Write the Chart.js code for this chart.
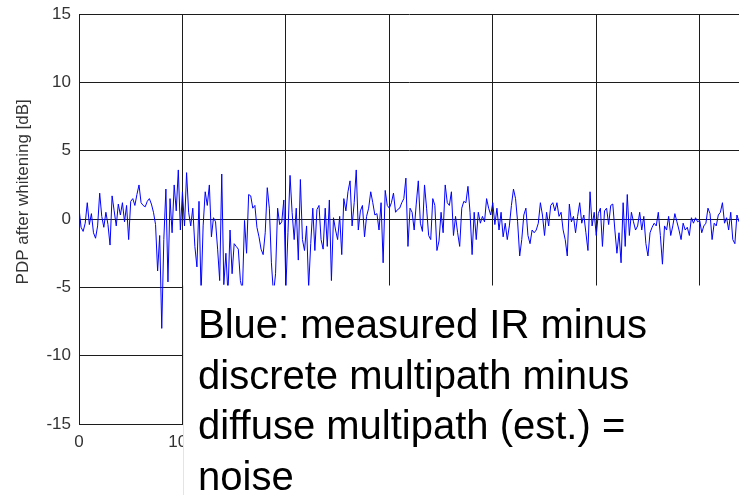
<!DOCTYPE html>
<html>
<head>
<meta charset="utf-8">
<script src="https://cdn.jsdelivr.net/npm/chart.js@4/dist/chart.umd.min.js"></script>
<style>
html,body{margin:0;padding:0;background:#fff;overflow:hidden;width:739px;height:495px;}
canvas{display:block;margin-top:-4px;}
</style>
</head>
<body>
<canvas id="c" width="739" height="499"></canvas>
<script>
const sampleSpacing = 2;
const seg0 = { start: 0, values: [
  0.8,-0.6,-0.9,-0.3,1.2,-0.4,0.4,-1.0,-1.4,-0.5,
  1.9,0.2,-0.6,0.5,-0.4,-1.9,1.7,0.6,-0.5,1.1,
  0.3,1.2,-0.2,1.0,-1.5,1.3,1.5,1.0,1.8,2.5,
  1.2,1.0,0.9,1.3,1.5,1.1,0.5,-0.4,-3.8,-1.2,
  -8.0,-1.5,2.2,-4.6,1.5,-1.0,2.5,0.6,3.6,-0.8,
  2.0,-0.5,3.4,0.5 ] };
const seg1 = { start: 108, values: [
  -0.5,0.8,-2.0,-3.5,1.3,-5.5,-0.5,2.0,1.0,2.5,
  -1.3,0.1,-0.2,-2.2,-4.5,3.3,-4.8,-2.5,-5.5,-0.8,
  -4.0,-1.8,-2.0,-2.2,-4.5,-5.2,-0.1,-2.5,1.8,1.7,
  0.8,1.0,-0.6,-1.3,-2.2,-2.6,-1.0,2.3,0.8,-3.2,
  -5.5,-4.0,0.8,-0.4,-0.2,1.4,-5.0,-1.0,3.2,0.5,
  -1.5 ] };
const seg2 = { start: 210, values: [
  0.8,-3.0,2.9,-1.5,-2.3,-0.5,-5.0,-1.8,0.8,-2.3,
  0.7,1.0,-1.5,-2.2,0.8,-2.0,1.4,-4.5,0.1,-0.8,
  -1.5,0.2,-2.6,1.5,0.6,2.0,2.8,-0.5,1.2,3.6,
  -0.8,0.6,1.0,-1.3,0.2,0.8,2.0,1.2,0.3,0.4,
  -0.8,1.2,-3.2,2.1,1.0,0.8,1.2,1.9,0.5,0.7,
  0.8 ] };
const seg3 = { start: 312, values: [
  1.2,1.5,3.0,-2.0,0.8,0.5,-0.8,1.1,2.8,-0.3,
  -0.9,2.5,0.8,-1.2,-1.5,1.5,1.0,-2.3,-1.6,0.5,
  -1.0,2.5,1.2,1.0,2.0,-1.2,0.2,-1.0,-2.0,0.8,
  1.3,1.2,2.4,0.5,-2.6,0.5,-1.5,0.5,-0.3,0.2,
  -0.2,1.5,0.8,0.3,1.2,-0.4,0.8,-0.8,0.5,-1.3,
  -0.3,-1.5,-0.5 ] };
const seg4 = { start: 418, values: [
  1.0,2.2,1.5,-0.2,-2.7,-1.5,0.3,0.8,-1.2,-1.8,
  -0.8,-1.0,-0.8,-0.3,1.2,0.3,-1.2,0.5,-0.5,1.0,
  1.2,0.6,1.2,0.2,0.5,-0.8,-1.5,-2.7,1.1,-0.2,
  0.2,-1.0,0.2,1.2,-0.3,0.3,-1.0,-2.3,2.0,-0.5,
  0.5,-1.2,0.4,0.8,-2.0,0.6,0.8,-0.4,1.0,1.1,
  -0.8 ] };
const seg5 = { start: 520, values: [
  -2.5,-1.0,-3.2,1.2,-2.0,1.8,-1.2,0.5,-0.2,-0.8,
  -0.5,0.5,-0.8,0.2,-1.8,-2.7,-1.0,-0.6,-0.3,-0.5,
  0.5,-1.2,-3.3,-0.5,-0.8,0.2,-1.2,-0.5,0.4,-0.2,
  -0.8,-1.5,-0.3,-0.8,-0.6,-1.2,0.1,-0.3,0.1,-0.2,
  -0.1,-1.0,-0.5,-0.3,0.8,0.4,-1.5,-0.3,-0.5,0.3,
  0.5,1.2,-0.3,0.1,-0.8,0.5,-1.5,-1.8,0.3,-0.2 ] };

const xTicks = [0, 100, 200, 300, 400, 500, 600];
const yTicks = [-15, -10, -5, 0, 5, 10, 15];
const yTitle = 'PDP after whitening [dB]';
const noteLines = ['Blue: measured IR minus', 'discrete multipath minus', 'diffuse multipath (est.) =', 'noise'];

const points = [];
[seg0, seg1, seg2, seg3, seg4, seg5].forEach(s => {
  s.values.forEach((v, i) => points.push({ x: s.start + i * sampleSpacing, y: v }));
});

const FONT = '"Liberation Sans", Arial, sans-serif';
const gridCol = '#1c1c1c';

const notePlugin = {
  id: 'note',
  afterDraw(chart) {
    const ctx = chart.ctx;
    const xs = chart.scales.x, ys = chart.scales.y;
    // y-axis title
    ctx.save();
    ctx.fillStyle = '#333';
    ctx.font = '17px ' + FONT;
    ctx.textAlign = 'center';
    ctx.textBaseline = 'alphabetic';
    ctx.translate(28, ys.getPixelForValue(2));
    ctx.rotate(-Math.PI / 2);
    ctx.fillText(yTitle, 0, 0);
    ctx.restore();
    // annotation box
    const left = Math.round(xs.getPixelForValue(100)) + 1;
    const top = Math.round(ys.getPixelForValue(-5)) - 1.5;
    ctx.save();
    ctx.fillStyle = '#ffffff';
    ctx.fillRect(left, top, chart.width - left, chart.height - top);
    ctx.strokeStyle = '#e4e4e4';
    ctx.lineWidth = 1;
    ctx.beginPath();
    ctx.moveTo(left + 0.5, top);
    ctx.lineTo(left + 0.5, chart.height);
    ctx.stroke();
    ctx.fillStyle = '#000';
    ctx.font = '40px ' + FONT;
    ctx.textBaseline = 'alphabetic';
    ctx.textAlign = 'left';
    noteLines.forEach((t, i) => ctx.fillText(t, left + 15, top + 52.5 + i * 50.5));
    ctx.restore();
  }
};

new Chart(document.getElementById('c'), {
  type: 'line',
  data: {
    datasets: [{
      data: points,
      borderColor: '#0000ff',
      borderWidth: 1,
      pointRadius: 0,
      tension: 0,
      fill: false
    }]
  },
  options: {
    responsive: false,
    animation: false,
    devicePixelRatio: 1,
    parsing: false,
    layout: { padding: { top: 10, right: 0, left: 0, bottom: 0 } },
    plugins: { legend: { display: false }, tooltip: { enabled: false } },
    scales: {
      x: {
        type: 'linear',
        min: 0,
        max: 638,
        afterBuildTicks(scale) { scale.ticks = xTicks.map(v => ({ value: v })); },
        afterFit(scale) { scale.height = 71; },
        ticks: { color: '#333', font: { family: FONT, size: 17 }, padding: 8, maxRotation: 0 },
        grid: { color: gridCol, lineWidth: 1, drawTicks: false },
        border: { display: true, color: gridCol, width: 1 }
      },
      y: {
        min: -15,
        max: 15,
        afterBuildTicks(scale) { scale.ticks = yTicks.map(v => ({ value: v })); },
        afterFit(scale) { scale.width = 79; },
        ticks: { color: '#333', font: { family: FONT, size: 17 }, padding: 8 },
        grid: { color: gridCol, lineWidth: 1, drawTicks: false },
        border: { display: true, color: gridCol, width: 1 }
      }
    }
  },
  plugins: [notePlugin]
});
</script>
</body>
</html>
